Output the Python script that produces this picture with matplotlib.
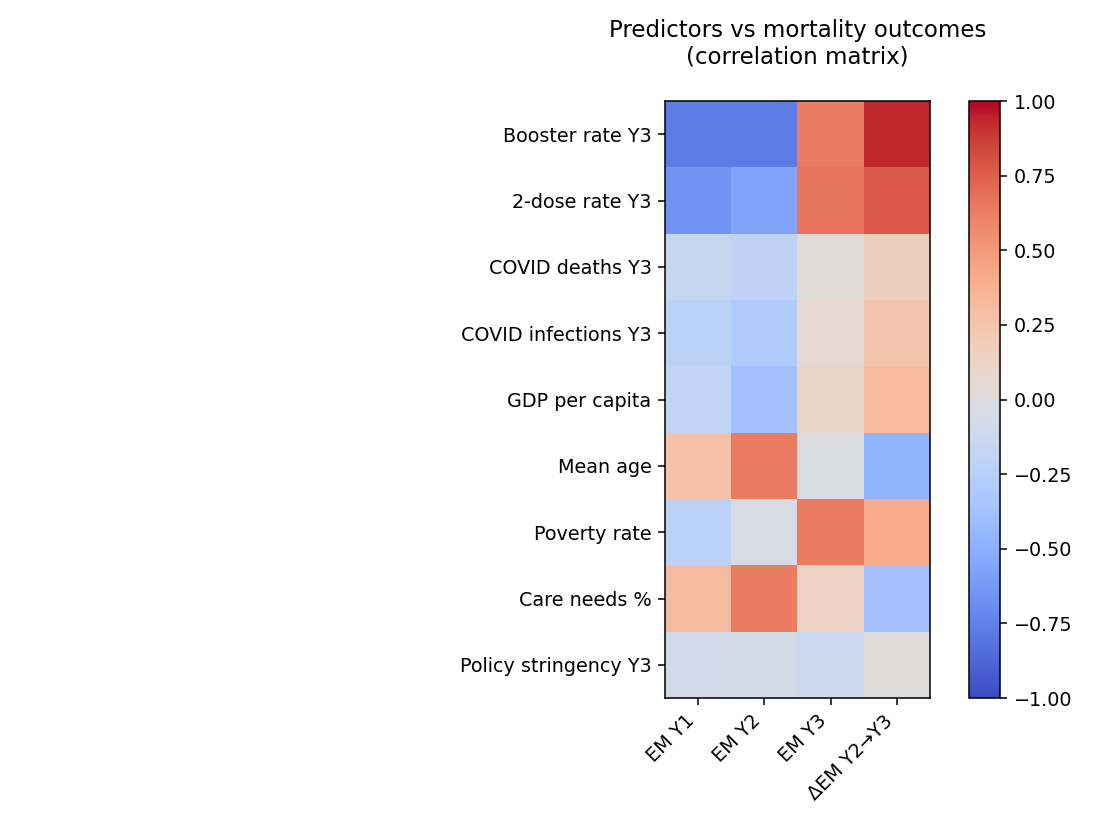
import numpy as np
import matplotlib
matplotlib.use("Agg")
import matplotlib.pyplot as plt

predictors = ["Booster rate Y3", "2-dose rate Y3", "COVID deaths Y3", "COVID infections Y3",
              "GDP per capita", "Mean age", "Poverty rate", "Care needs %", "Policy stringency Y3"]
outcomes = ["EM Y1", "EM Y2", "EM Y3", "ΔEM Y2→Y3"]

# correlations
booster = [-0.78, -0.78, 0.63, 0.93]
two_dose = [-0.65, -0.57, 0.66, 0.78]
covid_deaths = [-0.15, -0.20, 0.02, 0.15]
covid_inf = [-0.22, -0.30, 0.07, 0.25]
gdp = [-0.18, -0.38, 0.10, 0.32]
mean_age = [0.27, 0.64, -0.02, -0.47]
poverty = [-0.22, -0.05, 0.64, 0.40]
care = [0.30, 0.63, 0.13, -0.38]
stringency = [-0.08, -0.07, -0.12, 0.00]

corr = np.array([booster, two_dose, covid_deaths, covid_inf, gdp,
                 mean_age, poverty, care, stringency])

fig = plt.figure(figsize=(8, 6), dpi=137.5)
ax = fig.add_axes([0.6045, 0.1539, 0.2409, 0.7236])
cax = fig.add_axes([0.881, 0.1539, 0.0282, 0.7236])

im = ax.imshow(corr, cmap="coolwarm", vmin=-1, vmax=1, aspect="auto")
ax.set_xticks(range(len(outcomes)))
ax.set_xticklabels(outcomes, rotation=45, ha="right")
ax.set_yticks(range(len(predictors)))
ax.set_yticklabels(predictors)
ax.set_title("Predictors vs mortality outcomes\n(correlation matrix)", pad=19.5)

cb = fig.colorbar(im, cax=cax)
cb.set_ticks([-1, -0.75, -0.5, -0.25, 0, 0.25, 0.5, 0.75, 1])

fig.savefig("out.png", dpi=137.5)
